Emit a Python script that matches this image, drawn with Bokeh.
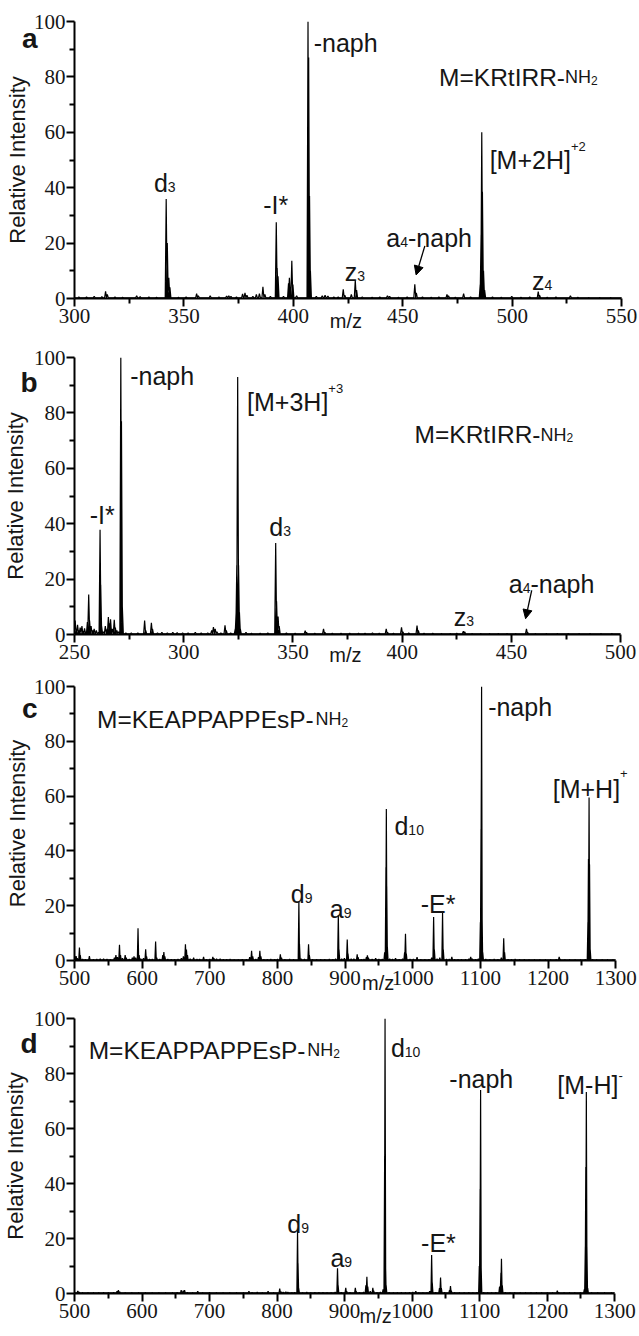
import math
from bokeh.plotting import figure
from bokeh.layouts import column
from bokeh.models import Label, Arrow, NormalHead, FixedTicker, Range1d, LinearAxis
from bokeh.embed import file_html
from bokeh.resources import INLINE

# ---------------- data: peak apexes (m/z, relative intensity) ----------------
a_mz = [302.0, 305.5, 309.0, 312.5, 314.2, 315.0, 318.5, 322.0, 328.4, 330.0, 334.0, 337.5,
        341.9, 342.4, 343.1, 343.6, 347.5, 351.0, 355.8, 356.6, 362.0, 366.0, 369.5, 370.5,
        371.5, 374.0, 376.8, 377.9, 378.8, 381.5, 383.1, 384.5, 386.1, 387.0, 389.5,
        392.2, 392.6, 393.0, 395.5, 397.8, 398.2, 399.3, 399.8, 401.5,
        406.7, 407.0, 407.4, 407.8, 410.5, 413.2, 414.5, 415.8, 418.5, 420.5,
        422.8, 423.5, 426.5, 428.3, 428.9, 431.5, 436.0, 439.5, 443.0, 444.0, 448.0, 452.0,
        455.5, 456.2, 459.0, 463.0, 466.5, 470.2, 470.9, 474.0, 477.8, 481.0,
        485.4, 485.8, 486.1, 486.4, 486.9, 487.4,
        491.0, 495.0, 499.8, 504.0, 508.0, 511.9, 512.5, 516.0, 520.0, 526.6, 530.0, 535.0, 540.0, 545.0]
a_int = [0.6, 0.5, 0.8, 0.7, 2.6, 1.5, 0.5, 0.4, 1.0, 0.7, 0.5, 0.4,
         35.9, 20.0, 7.5, 4.0, 0.4, 0.5, 1.8, 1.0, 1.0, 0.6, 0.9, 1.0,
         0.8, 0.5, 1.7, 2.0, 1.2, 0.8, 1.5, 1.8, 4.2, 1.5, 0.8,
         27.5, 11.0, 8.0, 0.8, 5.5, 7.5, 13.6, 5.0, 1.0,
         100.0, 87.0, 37.0, 10.0, 0.8, 1.0, 1.2, 0.9, 0.5, 0.5,
         3.3, 1.2, 1.5, 6.6, 3.0, 0.6, 0.4, 0.5, 1.0, 0.8, 0.4, 0.5,
         5.1, 2.0, 0.5, 0.4, 0.5, 1.5, 1.0, 0.4, 1.8, 0.5,
         5.0, 23.0, 60.0, 38.5, 10.0, 3.0,
         0.5, 0.4, 0.8, 0.4, 0.5, 2.5, 1.2, 0.4, 0.5, 1.0, 0.4, 0.3, 0.3, 0.3]

b_mz = [250.3, 250.8, 251.4, 252.0, 252.6, 253.4, 254.0, 254.6, 255.3, 255.9, 256.5, 256.9,
        257.6, 258.4, 259.0, 260.0, 261.0, 261.7, 262.0, 262.4, 263.2, 264.1, 265.0, 265.5,
        266.0, 266.5, 267.3, 268.2, 268.7, 269.4, 270.2, 271.2, 271.5, 271.9,
        273.5, 276.0, 279.0, 282.1, 282.6, 285.2, 285.7, 288.0, 290.0, 292.5, 295.0, 297.0,
        299.5, 302.0, 305.3, 308.0, 311.0, 312.8, 313.6, 314.4, 315.2, 317.0, 318.9, 319.5, 321.5,
        323.6, 324.0, 324.3, 324.7, 325.1, 325.5, 325.9,
        328.5, 331.0, 335.0, 338.5, 342.1, 342.5, 343.2, 343.7,
        347.0, 351.0, 355.6, 356.2, 360.0, 364.0, 364.6, 368.0, 372.0, 376.0, 380.0, 383.0,
        386.4, 389.5, 392.7, 393.3, 396.0, 399.7, 400.3, 403.0, 406.8, 407.4, 410.0, 414.0,
        418.0, 422.0, 425.0, 428.0, 428.6, 432.0, 436.0, 440.0, 444.0, 448.0, 452.0, 456.9,
        457.4, 461.0, 466.0, 471.0, 476.0, 481.0, 486.0, 491.0, 496.0]
b_int = [5.0, 2.0, 3.5, 1.5, 2.5, 3.0, 1.2, 2.2, 1.0, 4.5, 14.4, 5.0,
         3.0, 1.5, 2.0, 1.5, 0.8, 37.8, 18.0, 3.0, 1.0, 3.0, 2.0, 6.3,
         4.0, 5.5, 2.0, 5.3, 2.5, 1.5, 1.0, 100.0, 77.0, 10.0,
         0.5, 0.6, 0.5, 5.0, 1.5, 4.2, 2.0, 0.6, 0.8, 0.6, 0.8, 0.7,
         0.6, 0.5, 0.8, 0.5, 0.6, 1.5, 2.7, 2.0, 1.0, 0.5, 3.3, 1.5, 0.5,
         2.0, 8.0, 25.0, 93.0, 25.0, 8.0, 2.0,
         0.8, 0.4, 0.4, 0.5, 33.0, 12.0, 6.5, 3.0,
         0.5, 0.4, 1.4, 0.8, 0.4, 2.0, 0.8, 0.4, 0.4, 0.4, 0.4, 0.4,
         0.6, 0.4, 2.0, 0.8, 0.4, 2.6, 1.0, 0.5, 3.2, 1.5, 0.4, 0.4,
         0.3, 0.3, 0.4, 1.2, 1.0, 0.3, 0.3, 0.3, 0.3, 0.3, 0.3, 2.0,
         0.8, 0.3, 0.3, 0.3, 0.3, 0.3, 0.3, 0.3, 0.3]

c_mz = [501.0, 502.4, 504.0, 507.3, 508.5, 512.0, 516.0, 522.0, 528.0, 533.0, 538.0, 543.0,
        548.0, 553.0, 559.0, 561.2, 563.5, 566.5, 568.0, 571.0, 574.9, 576.5, 581.0, 585.5,
        588.0, 590.5, 593.9, 595.5, 598.0, 602.0, 605.2, 606.5, 611.0, 615.0, 619.9, 621.5,
        626.0, 630.5, 632.1, 633.5, 638.0, 643.0, 648.0, 653.0, 658.0, 661.0, 664.0, 665.5,
        667.0, 671.0, 676.1, 681.0, 685.0, 690.8, 695.0, 700.0, 704.5, 706.0, 710.0, 715.3,
        720.0, 725.0, 730.0, 736.0, 742.0, 748.0, 754.0, 759.0, 761.8, 763.5, 768.0, 772.0,
        774.0, 775.5, 780.0, 785.0, 790.2, 796.0, 800.0, 804.3, 806.0, 811.0, 818.0, 824.0,
        831.7, 832.6, 835.0, 840.0, 846.0, 847.2, 852.0, 858.0, 864.0, 870.0, 876.7, 882.0, 886.0,
        890.0, 891.0, 895.0, 899.0, 903.2, 904.3, 909.0, 913.0, 917.9, 919.2, 924.0, 928.0,
        931.5, 933.0, 934.5, 940.0, 945.2, 950.0, 955.0, 958.5,
        960.4, 961.0, 961.6, 962.5, 966.0, 970.0, 974.6, 980.0, 985.0, 988.0, 989.3, 990.5,
        996.0, 1001.0, 1006.4, 1012.0, 1018.0, 1024.0, 1028.0,
        1030.9, 1032.0, 1036.0, 1040.0, 1044.1, 1045.2, 1050.0, 1054.0, 1057.8, 1062.0, 1067.0,
        1072.0, 1078.0, 1083.0, 1085.7, 1088.0, 1093.0, 1097.0, 1100.0,
        1101.0, 1101.4, 1101.8, 1102.4, 1103.5, 1108.0, 1114.0, 1120.4, 1126.0, 1131.0, 1134.5,
        1135.8, 1141.0, 1146.0, 1151.4, 1158.0, 1165.0, 1172.0, 1180.0, 1188.0, 1196.0, 1204.0,
        1212.0, 1216.5, 1218.0, 1225.0, 1232.0, 1240.0, 1248.0, 1255.0, 1259.0,
        1259.8, 1260.7, 1261.4, 1262.4, 1266.0, 1272.0, 1280.0, 1288.0, 1296.0]
c_int = [1.5, 1.6, 0.8, 4.7, 2.0, 0.5, 0.4, 1.6, 0.4, 0.5, 0.6, 0.6,
         0.5, 0.4, 1.0, 2.0, 1.2, 5.7, 2.0, 0.8, 2.0, 1.0, 0.5, 1.0,
         1.5, 1.0, 11.8, 2.0, 0.6, 0.8, 4.1, 1.5, 0.5, 0.5, 6.9, 1.0,
         0.5, 2.0, 3.1, 1.5, 0.5, 0.4, 0.4, 0.5, 0.8, 1.5, 5.9, 4.0,
         2.0, 0.6, 1.0, 0.5, 0.5, 1.3, 0.4, 0.5, 1.3, 0.8, 0.6, 0.6,
         0.4, 0.4, 0.5, 0.3, 0.3, 0.4, 0.4, 1.2, 3.5, 1.5, 0.5, 1.2,
         3.5, 1.5, 0.4, 0.4, 0.5, 0.4, 0.5, 2.3, 1.0, 0.4, 0.5, 0.4,
         21.4, 6.0, 0.6, 0.5, 5.9, 2.0, 0.4, 0.4, 0.4, 0.4, 0.5, 0.4, 0.6,
         16.6, 4.0, 0.6, 0.8, 7.7, 2.5, 0.6, 0.6, 2.3, 1.2, 0.4, 0.5,
         1.2, 1.9, 1.0, 0.5, 0.8, 0.5, 0.5, 3.0,
         34.0, 55.3, 27.0, 5.0, 0.6, 0.5, 0.8, 0.4, 0.6, 3.0, 9.8, 2.5,
         0.5, 0.5, 1.2, 0.4, 0.4, 0.4, 1.0,
         15.9, 4.0, 0.6, 1.0, 17.5, 4.0, 0.5, 0.5, 1.3, 0.4, 0.4,
         0.4, 0.4, 0.6, 1.3, 0.6, 0.4, 0.6, 14.0,
         48.0, 66.0, 100.0, 20.0, 3.0, 0.5, 0.4, 0.5, 0.4, 1.0, 8.1,
         3.0, 0.4, 0.4, 0.5, 0.4, 0.4, 0.3, 0.3, 0.3, 0.3, 0.3,
         0.4, 1.3, 0.5, 0.3, 0.3, 0.3, 0.3, 0.4, 14.0,
         37.0, 59.5, 35.0, 4.0, 0.4, 0.3, 0.3, 0.3, 0.3]

d_mz = [504.9, 507.0, 512.0, 520.0, 528.0, 536.0, 543.0, 550.0, 558.0, 563.0, 565.0, 567.0,
        575.0, 585.0, 595.0, 605.0, 615.0, 625.0, 635.0, 645.0, 652.0, 658.0, 661.0, 663.0,
        667.0, 675.0, 682.5, 690.0, 700.0, 710.0, 720.0, 730.0, 740.0, 750.0, 758.3, 763.0,
        770.6, 778.0, 786.7, 795.0, 803.9, 806.0, 809.0, 813.0, 816.0, 822.0, 826.0,
        830.3, 831.0, 832.0, 838.0, 844.0, 850.0, 856.0, 862.0, 868.0, 874.0, 880.0, 886.0,
        889.5, 890.4, 895.0, 901.7, 903.0, 908.0, 915.9, 917.0, 922.0, 928.0, 931.5, 933.0,
        934.3, 938.0, 941.8, 943.0, 948.0, 953.0, 957.0,
        959.3, 959.9, 960.5, 961.5, 966.0, 972.0, 978.0, 984.0, 990.0, 996.0, 1001.0, 1005.4,
        1010.0, 1016.0, 1022.0, 1026.0,
        1028.9, 1029.8, 1035.0, 1040.5, 1042.1, 1043.3, 1048.0, 1055.4, 1056.8, 1058.0, 1063.0,
        1070.0, 1077.0, 1084.0, 1090.0, 1096.0, 1099.5,
        1100.7, 1101.4, 1102.2, 1106.0, 1112.0, 1118.0, 1124.0, 1129.5, 1131.5, 1132.3, 1133.5,
        1138.0, 1145.0, 1152.0, 1160.0, 1168.0, 1176.0, 1184.0, 1192.0, 1200.0, 1208.0, 1215.0,
        1217.0, 1225.0, 1233.0, 1241.0, 1249.0, 1255.0, 1256.5,
        1257.2, 1258.0, 1258.8, 1260.0, 1266.0, 1275.0, 1285.0, 1295.0]
d_int = [0.9, 0.5, 0.3, 0.3, 0.3, 0.3, 0.4, 0.3, 0.4, 0.8, 1.2, 0.6,
         0.3, 0.3, 0.3, 0.3, 0.3, 0.3, 0.3, 0.3, 0.4, 1.2, 1.0, 1.2,
         0.4, 0.3, 0.8, 0.3, 0.4, 0.3, 0.3, 0.3, 0.3, 0.3, 0.8, 0.4,
         0.5, 0.3, 0.8, 0.3, 1.8, 0.6, 0.5, 0.6, 0.5, 0.3, 0.4,
         23.0, 11.0, 2.0, 0.3, 0.5, 0.3, 0.4, 0.4, 0.4, 0.3, 0.3, 0.5,
         9.2, 3.0, 0.4, 2.1, 0.8, 0.4, 2.1, 0.8, 0.4, 0.5, 3.0, 6.1,
         2.5, 0.8, 2.1, 1.0, 0.4, 0.5, 1.5,
         50.0, 100.0, 13.0, 3.0, 0.4, 0.3, 0.3, 0.4, 0.3, 0.4, 0.5, 0.8,
         0.3, 0.3, 0.3, 0.8,
         14.0, 4.0, 0.4, 2.0, 5.8, 2.0, 0.4, 1.2, 2.7, 1.0, 0.3,
         0.3, 0.3, 0.4, 0.3, 0.4, 10.0,
         38.0, 74.0, 10.0, 0.4, 0.3, 0.3, 0.4, 2.5, 7.5, 12.6, 3.0,
         0.4, 0.3, 0.3, 0.3, 0.3, 0.3, 0.3, 0.3, 0.3, 0.3, 1.0,
         0.4, 0.3, 0.3, 0.3, 0.3, 1.5, 17.0,
         46.0, 73.3, 17.0, 2.0, 0.3, 0.3, 0.3, 0.3]

# axes
a_xrange = [300, 550]
b_xrange = [250, 500]
cd_xrange = [500, 1300]
a_xticks = [300, 350, 400, 450, 500, 550]
b_xticks = [250, 300, 350, 400, 450, 500]
cd_xticks = [500, 600, 700, 800, 900, 1000, 1100, 1200, 1300]
y_ticks = [0, 20, 40, 60, 80, 100]

# label texts
panel_letters = ["a", "b", "c", "d"]
peptide_ab = ["M=KRtIRR-", "NH", "2"]
peptide_cd = ["M=KEAPPAPPEsP-", "NH", "2"]
x_title = "m/z"
y_title = "Relative Intensity"

# ---------------- helpers ----------------
WID = {'a': .556, 'b': .556, 'c': .5, 'd': .556, 'e': .556, 'h': .556, 'n': .556, 'p': .556,
       's': .5, 't': .278, 'z': .5, 'l': .222, 'i': .222, 'v': .5, 'y': .5, '-': .333,
       '=': .584, '+': .584, '[': .278, ']': .278, '*': .389, 'M': .833, 'H': .722,
       'K': .667, 'R': .722, 'I': .278, 'E': .667, 'A': .667, 'P': .667, 'N': .722}
FONT = "Liberation Sans"
TICKFONT = "Liberation Sans Narrow"
TXT = "#161616"
W = 639


def tw(s, size):
    return sum(WID.get(ch, .556) for ch in s) * size


def rich(p, x, y, parts):
    off = 0.0
    for txt, size, dy in parts:
        p.add_layout(Label(x=x, y=y, x_offset=off, y_offset=dy, text=txt,
                           text_font=FONT, text_font_size=f"{size}px", text_color=TXT,
                           text_align="left", text_baseline="alphabetic"))
        off += tw(txt, size)


def profile(mz, inten, hw, xr, base=0.25):
    pts = sorted(zip(mz, inten))
    xs, ys = [xr[0]], [base]
    for m, h in pts:
        xs += [m - hw, m, m + hw]
        ys += [base, h, base]
    xs.append(xr[1])
    ys.append(base)
    return xs, ys


def hidden_axis(**kw):
    ax = LinearAxis(axis_line_color=None, major_tick_line_color=None, minor_tick_line_color=None,
                    major_tick_out=0, major_tick_in=0, minor_tick_out=0, minor_tick_in=0, **kw)
    return ax


def make_fig(height, top, bottom, left, axis_px, xr, xt, xminor, mz, inten, hw,
             letter, letter_y, letter_standoff, title_standoff, mz_x, mz_standoff):
    right = 2
    ppu = axis_px / (xr[1] - xr[0])
    frame_w = W - left - right
    x_end = xr[0] + frame_w / ppu
    p = figure(width=W, height=height, x_range=Range1d(xr[0], x_end), y_range=Range1d(0, 100),
               output_backend="svg", toolbar_location=None,
               min_border_top=top, min_border_bottom=bottom,
               min_border_left=left, min_border_right=right)
    p.outline_line_color = None
    p.xgrid.visible = False
    p.ygrid.visible = False
    p.background_fill_color = "white"
    p.border_fill_color = "white"
    p.xaxis.ticker = FixedTicker(ticks=xt, minor_ticks=xminor)
    p.yaxis.ticker = FixedTicker(ticks=y_ticks, minor_ticks=[10, 30, 50, 70, 90])
    p.xaxis.bounds = (xr[0], xr[1])
    for ax in (p.xaxis, p.yaxis):
        ax.axis_line_width = 2
        ax.axis_line_color = "black"
        ax.major_tick_line_width = 2
        ax.minor_tick_line_width = 2
        ax.major_tick_line_color = "black"
        ax.minor_tick_line_color = "black"
        ax.major_tick_out = 8
        ax.major_tick_in = 0
        ax.minor_tick_out = 5
        ax.minor_tick_in = 0
        ax.major_label_text_font = TICKFONT
        ax.major_label_text_font_size = "21px"
        ax.major_label_text_color = TXT
    p.xaxis.major_label_standoff = 2
    p.yaxis.major_label_standoff = 1

    # outer left axis: panel letter (as its only tick label) + y title
    la = hidden_axis(ticker=FixedTicker(ticks=[letter_y], minor_ticks=[]),
                     major_label_overrides={letter_y: letter},
                     major_label_standoff=letter_standoff,
                     major_label_text_font=FONT, major_label_text_font_size="28px",
                     major_label_text_font_style="bold", major_label_text_color=TXT,
                     axis_label=y_title, axis_label_standoff=title_standoff,
                     axis_label_text_font=FONT, axis_label_text_font_size="22px",
                     axis_label_text_font_style="normal", axis_label_text_color=TXT)
    p.add_layout(la, "left")

    # outer bottom axis: the m/z title placed as a single tick label
    ma = hidden_axis(ticker=FixedTicker(ticks=[mz_x], minor_ticks=[]),
                     major_label_overrides={mz_x: x_title},
                     major_label_standoff=mz_standoff,
                     major_label_text_font=FONT, major_label_text_font_size="20px",
                     major_label_text_color=TXT)
    p.add_layout(ma, "below")

    xs, ys = profile(mz, inten, hw, xr)
    p.line(xs, ys, line_color="black", line_width=1.2)
    return p


def arrow(p, x0, y0, x1, y1):
    p.add_layout(Arrow(x_start=x0, y_start=y0, x_end=x1, y_end=y1, line_width=1.3,
                       line_color="black",
                       end=NormalHead(size=9, fill_color="black", line_color="black")))


BIG, SUB, SUP, PEP, NHS = 25, 14, 13, 24.5, 18
CD_MINOR = [550, 650, 750, 850, 950, 1050, 1150, 1250]

# ---------------- panel a ----------------
pa = make_fig(345, 21, 47, 70, 551, a_xrange, a_xticks, [325, 375, 425, 475, 525],
              a_mz, a_int, 0.45, panel_letters[0], 94, -7, -11, 424, -16)
rich(pa, 409.3, 92.1, [("-naph", BIG, 0)])
rich(pa, 466.6, 79.8, [(peptide_ab[0], PEP, 0), (peptide_ab[1], NHS, 0), (peptide_ab[2], 12, -3)])
rich(pa, 489.7, 50.0, [("[M+2H]", BIG, 0), ("+2", SUP, 14)])
rich(pa, 336.3, 41.6, [("d", BIG, 0), ("3", SUB, -4)])
rich(pa, 386.2, 33.9, [("-I*", BIG, 0)])
rich(pa, 423.5, 9.7, [("z", BIG, 0), ("3", SUB, -4)])
rich(pa, 442.5, 22.0, [("a", BIG, 0), ("4", SUB, -4), ("-naph", BIG, 0)])
rich(pa, 509.1, 6.3, [("z", BIG, 0), ("4", SUB, -4)])
arrow(pa, 460.1, 19.0, 456.1, 8.5)

# ---------------- panel b ----------------
pb = make_fig(330, 12, 41, 70, 550, b_xrange, b_xticks, [275, 325, 375, 425, 475],
              b_mz, b_int, 0.45, panel_letters[1], 91, -7, -11, 374, -18)
rich(pb, 275.5, 93.5, [("-naph", BIG, 0)])
rich(pb, 329.0, 83.9, [("[M+3H]", BIG, 0), ("+3", SUP, 14)])
rich(pb, 405.7, 72.2, [(peptide_ab[0], PEP, 0), (peptide_ab[1], NHS, 0), (peptide_ab[2], 12, -3)])
rich(pb, 257.0, 43.0, [("-I*", BIG, 0)])
rich(pb, 339.2, 38.7, [("d", BIG, 0), ("3", SUB, -4)])
rich(pb, 423.6, 6.2, [("z", BIG, 0), ("3", SUB, -4)])
rich(pb, 448.8, 18.3, [("a", BIG, 0), ("4", SUB, -4), ("-naph", BIG, 0)])
arrow(pb, 459.3, 15.9, 456.5, 5.7)

# ---------------- panel c ----------------
pc = make_fig(331, 11, 46, 70, 545, cd_xrange, cd_xticks, CD_MINOR,
              c_mz, c_int, 1.0, panel_letters[2], 92, -7, -11, 949, -16)
rich(pc, 533.3, 88.0, [(peptide_cd[0], PEP, 0), (peptide_cd[1], NHS, 0), (peptide_cd[2], 12, -3)])
rich(pc, 1111.5, 92.4, [("-naph", BIG, 0)])
rich(pc, 1207.0, 62.6, [("[M+H]", BIG, 0), ("+", SUP, 15)])
rich(pc, 973.0, 49.2, [("d", BIG, 0), ("10", SUB, -4)])
rich(pc, 819.7, 24.2, [("d", BIG, 0), ("9", SUB, -4)])
rich(pc, 877.5, 18.7, [("a", BIG, 0), ("9", SUB, -4)])
rich(pc, 1011.9, 20.5, [("-E*", BIG, 0)])

# ---------------- panel d ----------------
pd_ = make_fig(330, 12, 43, 69, 545, cd_xrange, cd_xticks, CD_MINOR,
               d_mz, d_int, 1.0, panel_letters[3], 91, -7, -11, 946, -16)
rich(pd_, 521.0, 88.4, [(peptide_cd[0], PEP, 0), (peptide_cd[1], NHS, 0), (peptide_cd[2], 12, -3)])
rich(pd_, 968.6, 89.4, [("d", BIG, 0), ("10", SUB, -4)])
rich(pd_, 1055.1, 77.9, [("-naph", BIG, 0)])
rich(pd_, 1215.0, 76.0, [("[M-H]", BIG, 0), ("-", SUP, 9)])
rich(pd_, 815.2, 25.2, [("d", BIG, 0), ("9", SUB, -4)])
rich(pd_, 879.0, 13.0, [("a", BIG, 0), ("9", SUB, -4)])
rich(pd_, 1013.3, 18.5, [("-E*", BIG, 0)])

layout = column(pa, pb, pc, pd_)
open("out.html", "w").write(file_html(layout, INLINE))
